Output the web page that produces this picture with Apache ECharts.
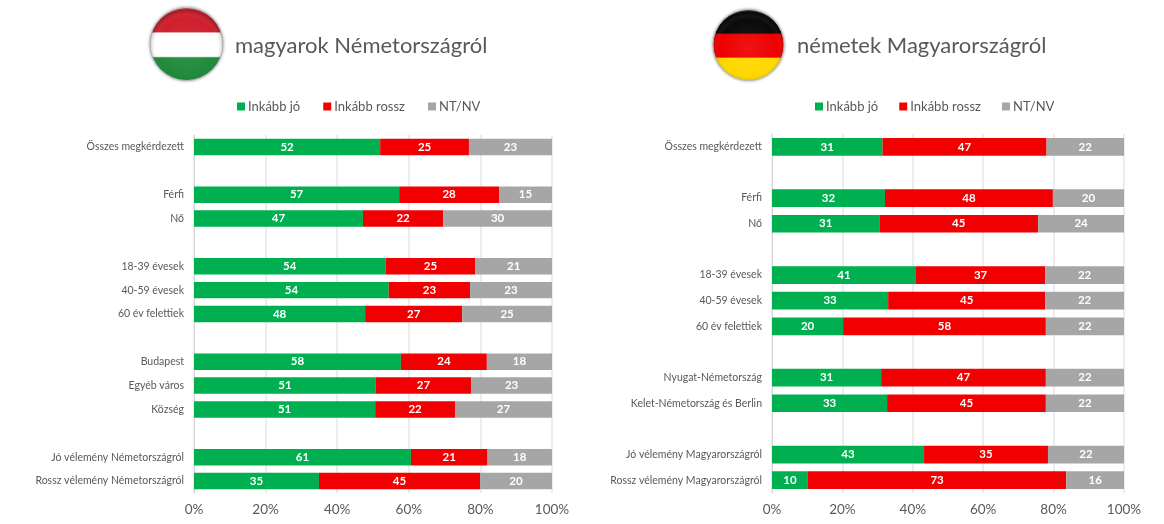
<!DOCTYPE html>
<html>
<head>
<meta charset="utf-8">
<title>magyarok / németek</title>
<script src="https://cdn.jsdelivr.net/npm/echarts@6/dist/echarts.min.js"></script>
<style>
  html, body { margin: 0; padding: 0; background: #fff; }
  #chart { width: 1164px; height: 524px; }
</style>
</head>
<body>
<div id="chart"></div>
<script>
const FONT = "Lato, 'Open Sans', sans-serif";
const seriesNames = ["Inkább jó", "Inkább rossz", "NT/NV"];
const seriesColors = ["#00b050", "#f00000", "#a6a6a6"];
const xTicks = [0, 20, 40, 60, 80, 100];

// empty strings are the gaps between groups
const huCategories = ["Összes megkérdezett", "", "Férfi", "Nő", "", "18-39 évesek", "40-59 évesek", "60 év felettiek", "", "Budapest", "Egyéb város", "Község", "", "Jó vélemény Németországról", "Rossz vélemény Németországról"];
const huGood = [52, null, 57.3, 47.2, null, 53.5, 54.4, 47.8, null, 57.8, 50.8, 50.6, null, 60.6, 34.9];
const huBad = [24.8, null, 27.9, 22.4, null, 25.1, 22.7, 27.1, null, 24, 26.6, 22.3, null, 21.4, 45];
const huNone = [23.2, null, 14.8, 30.4, null, 21.4, 22.9, 25.1, null, 18.2, 22.6, 27.1, null, 18, 20.1];

const deCategories = ["Összes megkérdezett", "", "Férfi", "Nő", "", "18-39 évesek", "40-59 évesek", "60 év felettiek", "", "Nyugat-Németország", "Kelet-Németország és Berlin", "", "Jó vélemény Magyarországról", "Rossz vélemény Magyarországról"];
const deGood = [31.4, null, 32.1, 30.5, null, 40.9, 33, 20.2, null, 31, 32.7, null, 43.2, 10.2];
const deBad = [46.6, null, 47.7, 45.1, null, 36.7, 44.6, 57.6, null, 46.8, 45.1, null, 35.2, 73.4];
const deNone = [22, null, 20.2, 24.4, null, 22.4, 22.4, 22.2, null, 22.2, 22.2, null, 21.6, 16.4];

const chart = echarts.init(document.getElementById("chart"));

function makeSeries(values, i, axisIndex) {
  return {
    name: seriesNames[i],
    type: "bar",
    stack: "s" + axisIndex,
    xAxisIndex: axisIndex,
    yAxisIndex: axisIndex,
    barWidth: "69%",
    data: values,
    itemStyle: { color: seriesColors[i] },
    label: {
      show: true,
      position: "inside",
      color: "#fff",
      fontFamily: FONT,
      fontWeight: "bold",
      fontSize: 11.5,
      formatter: p => Math.round(p.value)
    }
  };
}

function xAxis(gridIndex) {
  return {
    type: "value",
    gridIndex,
    min: xTicks[0],
    max: xTicks[xTicks.length - 1],
    interval: xTicks[1] - xTicks[0],
    axisLine: { show: false },
    axisTick: { show: false },
    axisLabel: { color: "#595959", fontFamily: FONT, fontSize: 13.5, margin: 10, formatter: "{value}%" },
    splitLine: { lineStyle: { color: "#e6e6e6", width: 1.5 } }
  };
}

function yAxis(gridIndex, categories) {
  return {
    type: "category",
    gridIndex,
    inverse: true,
    data: categories,
    axisLine: { lineStyle: { color: "#d9d9d9" } },
    axisTick: { show: false },
    axisLabel: { color: "#595959", fontFamily: FONT, fontSize: 10.5, margin: 10, interval: 0 }
  };
}

function legend(left, itemGap) {
  return {
    left,
    top: 95,
    data: seriesNames,
    icon: "rect",
    itemWidth: 8,
    itemHeight: 8,
    itemGap,
    selectedMode: false,
    textStyle: { color: "#595959", fontFamily: FONT, fontSize: 13, padding: [0, 0, 0, -2] }
  };
}

function flag(cx, cy, r, stops) {
  const bands = [];
  stops.forEach((c, i) => {
    bands.push({ offset: i / 3 + (i ? 0.02 : 0), color: c });
    bands.push({ offset: (i + 1) / 3, color: c });
  });
  return [
    {
      type: "circle",
      shape: { cx, cy, r },
      style: {
        fill: new echarts.graphic.LinearGradient(0, 0, 0, 1, bands),
        stroke: "#bdbdbd",
        lineWidth: 1,
        shadowBlur: 3,
        shadowColor: "rgba(0,0,0,0.35)"
      }
    },
    {
      type: "circle",
      shape: { cx, cy, r },
      style: {
        fill: new echarts.graphic.RadialGradient(0.5, 0.55, 0.55, [
          { offset: 0, color: "rgba(255,255,255,0.08)" },
          { offset: 0.75, color: "rgba(255,255,255,0)" },
          { offset: 0.93, color: "rgba(0,0,0,0.15)" },
          { offset: 1, color: "rgba(255,255,255,0.5)" }
        ])
      }
    }
  ];
}

chart.setOption({
  backgroundColor: "#fff",
  animation: false,
  title: [
    { text: "magyarok Németországról", left: 230, top: 30, textStyle: { color: "#595959", fontFamily: FONT, fontSize: 22, fontWeight: "normal" } },
    { text: "németek Magyarországról", left: 792, top: 30, textStyle: { color: "#595959", fontFamily: FONT, fontSize: 22, fontWeight: "normal" } }
  ],
  legend: [legend(232, 23), legend(810, 21)],
  grid: [
    { left: 194, width: 358, top: 135, height: 358 },
    { left: 772, width: 352, top: 134, height: 359 }
  ],
  xAxis: [xAxis(0), xAxis(1)],
  yAxis: [yAxis(0, huCategories), yAxis(1, deCategories)],
  series: [
    makeSeries(huGood, 0, 0), makeSeries(huBad, 1, 0), makeSeries(huNone, 2, 0),
    makeSeries(deGood, 0, 1), makeSeries(deBad, 1, 1), makeSeries(deNone, 2, 1)
  ],
  graphic: [
    ...flag(186.5, 44, 36.5, ["#cf1f2e", "#ffffff", "#218a3c"]),
    ...flag(748.5, 45, 35.5, ["#0a0a0a", "#ee0000", "#ffd800"])
  ]
});
</script>
</body>
</html>
